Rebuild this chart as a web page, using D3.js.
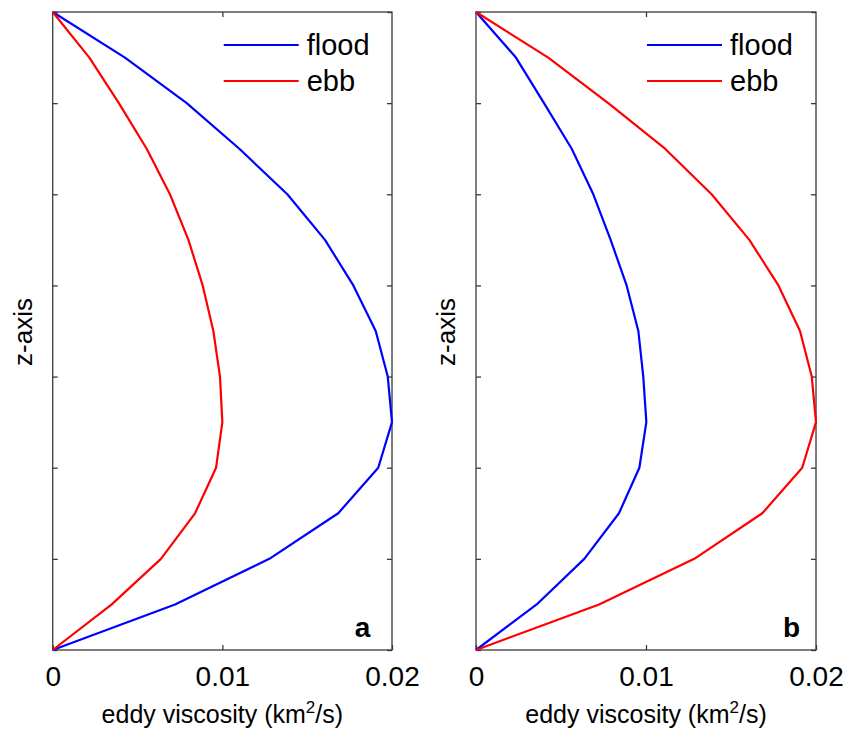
<!DOCTYPE html>
<html>
<head>
<meta charset="utf-8">
<script src="https://cdn.jsdelivr.net/npm/d3@7"></script>
<style>
  body { margin: 0; background: #fff; }
  svg { display: block; font-family: "Liberation Sans", Arial, sans-serif; }
</style>
</head>
<body>
<svg id="chart" width="846" height="729"></svg>
<script>

/* data : z levels from surface (top) to bed (bottom) */
const zLevels = [14, 13, 12, 11, 10, 9, 8, 7, 6, 5, 4, 3, 2, 1, 0];
const zTicks = [0, 2, 4, 6, 8, 10, 12, 14];
const xTicks = [0, 0.01, 0.02];
const xTickLabels = ["0", "0.01", "0.02"];

// panel a
const floodA = [0, 0.00426, 0.0079, 0.0110, 0.01383, 0.01605, 0.01772, 0.01904,
  0.01975, 0.0200, 0.01919, 0.01683, 0.01277, 0.00721, 0];
const ebbA = [0, 0.00216, 0.0039, 0.00554, 0.00691, 0.0080, 0.00884, 0.00947,
  0.00986, 0.0100, 0.00963, 0.00839, 0.00638, 0.00348, 0];

// panel b
const floodB = [0, 0.00235, 0.0040, 0.00563, 0.0069, 0.00792, 0.00886, 0.00955,
  0.00984, 0.01002, 0.00961, 0.00841, 0.00637, 0.00357, 0];
const ebbB = [0, 0.00425, 0.00778, 0.01112, 0.01386, 0.01608, 0.01779, 0.01906,
  0.01975, 0.0200, 0.01919, 0.01684, 0.01284, 0.00724, 0];

const seriesNames = ["flood", "ebb"];
const seriesColors = ["#0000ff", "#ff0000"];


class Panel {

  constructor(svg, left, right, top, bottom, series, letter, letterX) {
    this.svg = svg;
    this.g = svg.append("g");
    this.left = left;
    this.right = right;
    this.top = top;
    this.bottom = bottom;

    this.x = d3.scaleLinear().domain([0, 0.02]).range([left, right]);
    this.y = d3.scaleLinear().domain([0, 14]).range([bottom, top]);

    this.drawAxes();
    this.drawLines(series);
    this.drawLegend();
    this.drawLabels(letter, letterX);
  }

  /* box and inner ticks */
  drawAxes() {
    let g = this.g;
    let axisColor = "#3a3a3a";

    let bottomAxis = g.append("g")
      .attr("transform", `translate(0,${this.bottom})`)
      .call(d3.axisBottom(this.x)
        .tickValues(xTicks)
        .tickSizeInner(-5)
        .tickSizeOuter(0)
        .tickPadding(16)
        .tickFormat((d, i) => xTickLabels[i]));
    bottomAxis.selectAll("text")
      .attr("font-size", 28)
      .attr("font-family", "Liberation Sans, Arial, sans-serif")
      .attr("fill", "#000");

    g.append("g")
      .attr("transform", `translate(0,${this.top})`)
      .call(d3.axisTop(this.x).tickValues([0.01]).tickSizeInner(-5).tickSizeOuter(0).tickFormat(""));

    g.append("g")
      .attr("transform", `translate(${this.left},0)`)
      .call(d3.axisLeft(this.y).tickValues(zTicks).tickSizeInner(-5).tickSizeOuter(0).tickFormat(""));

    g.append("g")
      .attr("transform", `translate(${this.right},0)`)
      .call(d3.axisRight(this.y).tickValues(zTicks).tickSizeInner(-5).tickSizeOuter(0).tickFormat(""));

    g.selectAll(".domain").remove();
    g.selectAll(".tick line")
      .attr("stroke", axisColor)
      .attr("stroke-width", 1.3);

    g.append("rect")
      .attr("x", this.left)
      .attr("y", this.top)
      .attr("width", this.right - this.left)
      .attr("height", this.bottom - this.top)
      .attr("fill", "none")
      .attr("stroke", axisColor)
      .attr("stroke-width", 1.3);
  }

  drawLines(series) {
    let line = d3.line()
      .x(d => this.x(d.v))
      .y(d => this.y(d.z));

    series.forEach((vals, i) => {
      let pts = vals.map((v, k) => ({v: v, z: zLevels[k]}));
      this.g.append("path")
        .datum(pts)
        .attr("d", line)
        .attr("fill", "none")
        .attr("stroke", seriesColors[i])
        .attr("stroke-width", 2.2)
        .attr("stroke-linejoin", "round");
    });
  }

  drawLegend() {
    let x0 = this.left + 171;
    seriesNames.forEach((name, i) => {
      let ly = this.top + 33 + i * 36;
      this.g.append("line")
        .attr("x1", x0).attr("x2", x0 + 75)
        .attr("y1", ly).attr("y2", ly)
        .attr("stroke", seriesColors[i])
        .attr("stroke-width", 2.2);
      this.g.append("text")
        .attr("x", this.left + 254)
        .attr("y", ly + 10)
        .attr("font-size", 29)
        .text(name);
    });
  }

  drawLabels(letter, letterX) {
    let cx = (this.left + this.right) / 2;
    let cy = (this.top + this.bottom) / 2;

    // x label
    let xl = this.g.append("text")
      .attr("x", cx)
      .attr("y", 723)
      .attr("text-anchor", "middle")
      .attr("font-size", 25);
    xl.append("tspan").text("eddy viscosity (km");
    xl.append("tspan").attr("dy", -10).attr("font-size", 17).text("2");
    xl.append("tspan").attr("dy", 10).text("/s)");

    // y label
    this.g.append("text")
      .attr("transform", `translate(${this.left - 21},${cy + 1}) rotate(-90)`)
      .attr("text-anchor", "middle")
      .attr("font-size", 26)
      .text("z-axis");

    // panel letter
    this.g.append("text")
      .attr("x", letterX)
      .attr("y", 637)
      .attr("text-anchor", "middle")
      .attr("font-size", 28)
      .attr("font-weight", "bold")
      .text(letter);
  }

}

/* main */
let svg = d3.select("#chart");
let panelA = new Panel(svg, 52.7, 392, 12, 650, [floodA, ebbA], "a", 362.5);
let panelB = new Panel(svg, 476, 816, 12, 650, [floodB, ebbB], "b", 791.5);
</script>
</body>
</html>
